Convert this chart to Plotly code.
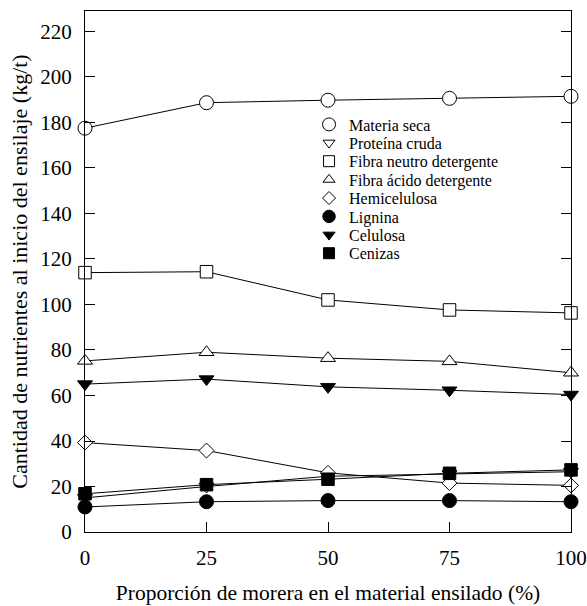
import plotly.graph_objects as go

x_vals = [0, 25, 50, 75, 100]

materia_seca = [177.5, 188.7, 189.8, 190.6, 191.5]
proteina_cruda = [15.0, 20.0, 24.5, 25.5, 26.5]
fibra_neutro = [114.0, 114.4, 102.0, 97.6, 96.3]
fibra_acido = [75.2, 79.0, 76.4, 75.0, 70.0]
hemicelulosa = [39.3, 35.8, 26.0, 21.5, 20.5]
lignina = [11.0, 13.3, 13.8, 13.8, 13.3]
celulosa = [65.0, 67.2, 63.8, 62.3, 60.4]
cenizas = [16.8, 20.8, 23.2, 25.8, 27.3]

# name, values, symbol, fill, plot marker size, legend marker size
series = [
    ("Materia seca", materia_seca, "circle", "white", 14, 13),
    ("Proteína cruda", proteina_cruda, "triangle-down", "white", 13, 10.5),
    ("Fibra neutro detergente", fibra_neutro, "square", "white", 12.5, 11),
    ("Fibra ácido detergente", fibra_acido, "triangle-up", "white", 13, 10.5),
    ("Hemicelulosa", hemicelulosa, "diamond", "white", 11.5, 10),
    ("Lignina", lignina, "circle", "black", 14, 12.5),
    ("Celulosa", celulosa, "triangle-down", "black", 13, 10.5),
    ("Cenizas", cenizas, "square", "black", 12.5, 11),
]

FONT = "Liberation Serif"
L, R, T, B = 85, 16, 11, 74
W, H = 587, 606
plot_h = H - T - B

fig = go.Figure()
for name, vals, sym, fill, size, lsize in series:
    fig.add_trace(go.Scatter(
        x=x_vals, y=vals, mode="lines+markers", name=name, showlegend=False,
        line=dict(color="black", width=1),
        marker=dict(symbol=sym, size=size, color=fill, line=dict(color="black", width=1)),
        cliponaxis=False, hoverinfo="skip",
    ))

legend_first_y = 124.5
legend_step = 18.4
layout_legends = {}
for i, (name, vals, sym, fill, size, lsize) in enumerate(series):
    key = "legend" if i == 0 else f"legend{i + 1}"
    fig.add_trace(go.Scatter(
        x=[None], y=[None], mode="markers", name=name, showlegend=True, legend=key,
        marker=dict(symbol=sym, size=lsize, color=fill, line=dict(color="black", width=1)),
    ))
    ypx = legend_first_y + i * legend_step
    layout_legends[key] = dict(
        x=0.461, y=(H - B - ypx) / plot_h, xanchor="left", yanchor="middle",
        font=dict(family=FONT, size=16, color="black"),
        bgcolor="rgba(0,0,0,0)", borderwidth=0, itemwidth=30,
    )

fig.update_layout(
    width=W, height=H,
    margin=dict(l=L, r=R, t=T, b=B, autoexpand=False),
    paper_bgcolor="white", plot_bgcolor="white",
    font=dict(family=FONT, color="black", size=20),
    xaxis=dict(
        range=[0, 100], tickvals=[0, 25, 50, 75, 100],
        ticks="inside", ticklen=10, tickwidth=1, tickcolor="black",
        showline=True, linecolor="black", linewidth=1, mirror=True,
        showgrid=False, zeroline=False, automargin=False,
        tickfont=dict(family=FONT, size=21),
        ticklabelstandoff=7,
        title=dict(text="Proporción de morera en el material ensilado (%)",
                   font=dict(family=FONT, size=21.5), standoff=15),
    ),
    yaxis=dict(
        range=[0, 229], tickvals=[0, 20, 40, 60, 80, 100, 120, 140, 160, 180, 200, 220],
        ticks="inside", ticklen=10, tickwidth=1, tickcolor="black",
        showline=True, linecolor="black", linewidth=1, mirror="ticks",
        showgrid=False, zeroline=False, automargin=False,
        tickfont=dict(family=FONT, size=21),
        ticklabelstandoff=8,
        title=dict(text="Cantidad de nutrientes al inicio del ensilaje (kg/t)",
                   font=dict(family=FONT, size=22), standoff=6),
    ),
    **layout_legends,
)

fig.write_html("out.html", config={"displayModeBar": False},
               post_script="document.body.style.margin='0';")
